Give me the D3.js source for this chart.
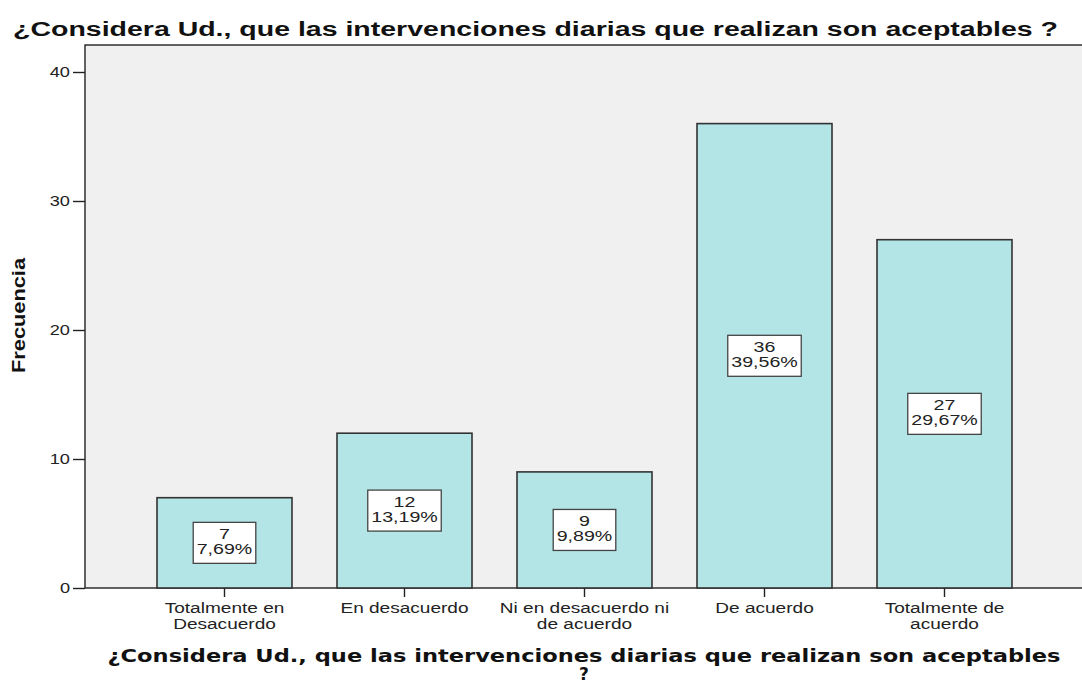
<!DOCTYPE html>
<html>
<head>
<meta charset="utf-8">
<title>Intervenciones diarias</title>
<script src="https://cdnjs.cloudflare.com/ajax/libs/d3/7.8.5/d3.min.js"></script>
<style>
    html, body { margin: 0; padding: 0; background: #fff; }
    svg { display: block; font-family: 'Liberation Sans', Arial, sans-serif; }
</style>
</head>
<body>
<div id="chart"></div>
<script>
    const categories = [
        ["Totalmente en", "Desacuerdo"],
        ["En desacuerdo"],
        ["Ni en desacuerdo ni", "de acuerdo"],
        ["De acuerdo"],
        ["Totalmente de", "acuerdo"]
    ];
    const counts = [7, 12, 9, 36, 27];
    const percents = ["7,69%", "13,19%", "9,89%", "39,56%", "29,67%"];
    const yTicks = [0, 10, 20, 30, 40];
    const title = "¿Considera Ud., que las intervenciones  diarias que realizan son aceptables ?";
    const xTitle = ["¿Considera Ud., que las intervenciones  diarias que realizan son aceptables", "?"];
    const yTitle = "Frecuencia";

    const W = 1082, H = 683;
    const plot = { left: 85, top: 45, right: 1084, bottom: 588 };

    // the original export is stretched sideways, so widen text the same way
    function stretch(sel, sx) {
        sel.each(function () {
            const len = this.getComputedTextLength();
            d3.select(this).attr("textLength", len * sx).attr("lengthAdjust", "spacingAndGlyphs");
        });
    }

    const svg = d3.select("#chart").append("svg")
        .attr("width", W).attr("height", H)
        .style("white-space", "pre");

    const y = d3.scaleLinear().domain([0, 40]).range([plot.bottom, 72]);
    const x = d3.scaleBand()
        .domain(d3.range(counts.length))
        .range([134.5, 1034.5])
        .paddingInner(0.25).paddingOuter(0.125);

    // plot background
    svg.append("rect")
        .attr("x", plot.left).attr("y", plot.top)
        .attr("width", plot.right - plot.left).attr("height", plot.bottom - plot.top)
        .attr("fill", "#f0f0f0").attr("stroke", "#222").attr("stroke-width", 1.4);

    // bars
    svg.selectAll("rect.bar").data(counts).enter().append("rect")
        .attr("class", "bar")
        .attr("x", (d, i) => x(i))
        .attr("y", d => y(d))
        .attr("width", x.bandwidth())
        .attr("height", d => y(0) - y(d))
        .attr("fill", "#b3e5e6")
        .attr("stroke", "#333")
        .attr("stroke-width", 1.6);

    // value boxes
    const labels = svg.selectAll("g.lab").data(counts).enter().append("g")
        .attr("class", "lab")
        .attr("transform", (d, i) => `translate(${x(i) + x.bandwidth() / 2},${(y(d) + y(0)) / 2})`);
    labels.each(function (d, i) {
        const g = d3.select(this);
        const rect = g.append("rect").attr("fill", "#fff").attr("stroke", "#444").attr("stroke-width", 1.3);
        const lines = [String(d), percents[i]];
        const texts = g.selectAll("text").data(lines).enter().append("text")
            .attr("x", 0).attr("y", (s, k) => k === 0 ? -3.5 : 11.5)
            .attr("text-anchor", "middle").attr("font-size", 14).attr("fill", "#222")
            .text(s => s);
        stretch(texts, 1.4);
        const w = d3.max(texts.nodes(), n => +n.getAttribute("textLength")) + 7;
        rect.attr("x", -w / 2).attr("y", -20.5).attr("width", w).attr("height", 41);
    });

    // y axis
    const yAxis = svg.append("g")
        .attr("transform", `translate(${plot.left},0)`)
        .call(d3.axisLeft(y).tickValues(yTicks).tickSize(12).tickPadding(3));
    yAxis.select(".domain").remove();
    yAxis.selectAll("line").attr("stroke", "#222").attr("stroke-width", 1.4);
    yAxis.selectAll("text").attr("font-size", 14).attr("fill", "#222").attr("dy", "0.35em")
        .attr("font-family", "'Liberation Sans', Arial, sans-serif");
    stretch(yAxis.selectAll("text"), 1.3);

    // x axis
    const xAxis = svg.append("g")
        .attr("transform", `translate(0,${plot.bottom})`)
        .call(d3.axisBottom(x).tickSize(9).tickFormat(""));
    xAxis.select(".domain").remove();
    xAxis.selectAll("line").attr("stroke", "#222").attr("stroke-width", 1.4);
    xAxis.selectAll(".tick").each(function (d) {
        const t = d3.select(this).selectAll("text.cat").data(categories[d]).enter().append("text")
            .attr("class", "cat")
            .attr("x", 0).attr("y", (s, k) => 25 + k * 16)
            .attr("text-anchor", "middle").attr("font-size", 14).attr("fill", "#222")
            .attr("font-family", "'Liberation Sans', Arial, sans-serif")
            .text(s => s);
        stretch(t, 1.36);
    });

    // chart title
    svg.append("text")
        .attr("x", 13).attr("y", 36)
        .attr("font-size", 19.5).attr("font-weight", "bold").attr("fill", "#111")
        .attr("textLength", 1045).attr("lengthAdjust", "spacingAndGlyphs")
        .text(title);

    // x axis title
    const xt = svg.selectAll("text.xtitle").data(xTitle).enter().append("text")
        .attr("class", "xtitle")
        .attr("x", 584).attr("y", (s, k) => 662 + k * 18)
        .attr("text-anchor", "middle")
        .attr("font-family", "'DejaVu Sans', sans-serif")
        .attr("font-size", 17).attr("font-weight", "bold").attr("fill", "#111")
        .text(s => s);
    xt.filter((s, k) => k === 0).attr("textLength", 953).attr("lengthAdjust", "spacingAndGlyphs");

    // y axis title
    svg.append("text")
        .attr("transform", `translate(25,315.5) rotate(-90)`)
        .attr("text-anchor", "middle")
        .attr("font-size", 19).attr("font-weight", "bold").attr("fill", "#111")
        .attr("textLength", 115).attr("lengthAdjust", "spacingAndGlyphs")
        .text(yTitle);
</script>
</body>
</html>
